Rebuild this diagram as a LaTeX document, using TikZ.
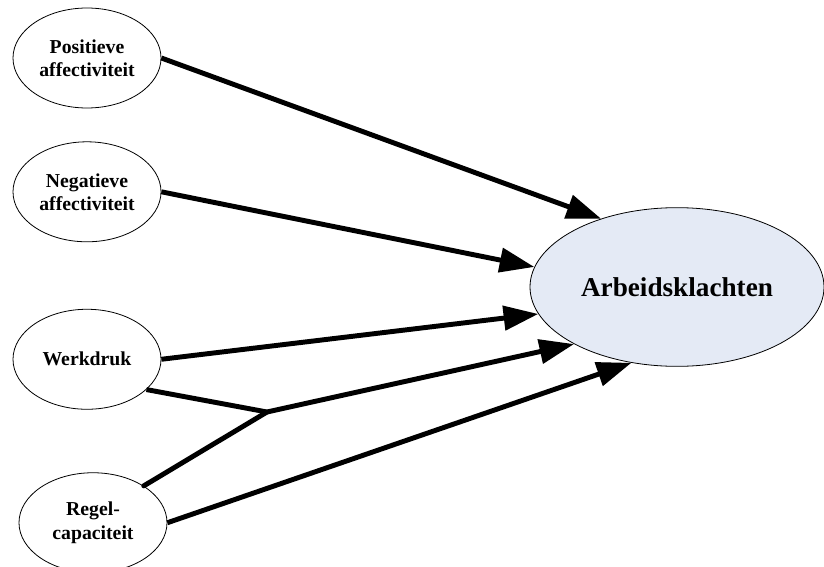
\documentclass[tikz,border=0pt]{standalone}
\usepackage{fontspec}
\setmainfont{Liberation Serif}
\usepackage{xcolor}
\definecolor{klachtblue}{HTML}{E4EAF5}
\usetikzlibrary{arrows.meta,positioning,shapes.geometric}

\begin{document}
\begin{tikzpicture}[
  x=0.75pt,y=-0.75pt,
  factor/.style={ellipse,draw,line width=0.6pt,align=center,inner sep=0pt,minimum width=111pt,minimum height=75pt,font=\fontsize{14.8}{17.3}\selectfont\bfseries},
  uitkomst/.style={ellipse,draw,line width=0.6pt,fill=klachtblue,inner sep=0pt,minimum width=220.5pt,minimum height=119pt,font=\fontsize{20.4}{24}\selectfont\bfseries},
  pijl/.style={-{Triangle[length=26pt,width=18pt]},line width=3.7pt},
  lijn/.style={line width=3.7pt,line cap=round}]
\useasboundingbox (0,0) rectangle (824,567);
\node[factor] (pos) at (87,58) {Positieve\\affectiviteit};
\node[factor,below=24.75pt of pos] (neg) {Negatieve\\affectiviteit};
\node[factor,below=50pt of neg] (werk) {Werkdruk};
\node[factor,below=47pt of werk,xshift=4.5pt] (regel) {Regel-\\capaciteit};
\node[uitkomst] (klacht) at (677,287) {Arbeidsklachten};
\coordinate (knoop) at (267,412);
\draw[pijl] (pos.east) -- (klacht.138);
\draw[pijl] (neg.east) -- (klacht.172.6);
\draw[pijl] (werk.east) -- (klacht.191);
\draw[pijl] (werk.-27) -- (knoop) -- (klacht.209);
\draw[lijn] (regel.36) -- (knoop);
\draw[pijl] (regel.east) -- (klacht.239);
\end{tikzpicture}
\end{document}
